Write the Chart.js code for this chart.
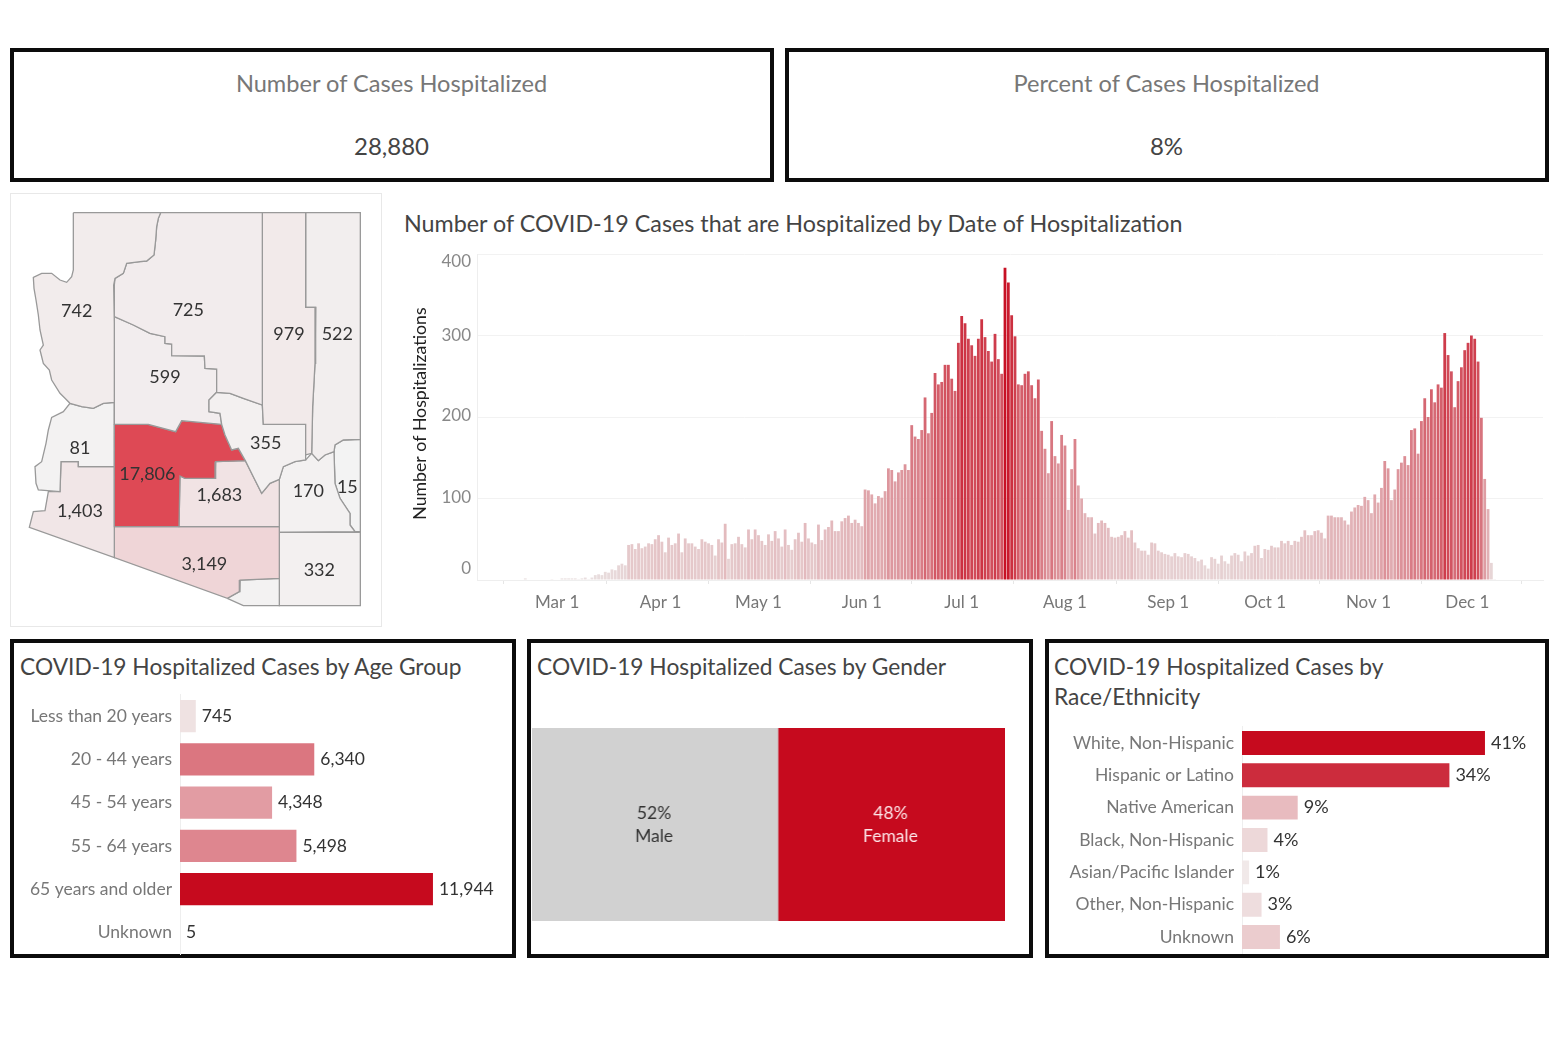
<!DOCTYPE html>
<html lang="en"><head><meta charset="utf-8">
<title>COVID-19 hospitalizations</title>
<script src="https://cdn.jsdelivr.net/npm/chart.js@4"></script>
<style>
html,body{margin:0;padding:0;background:#fff;width:1560px;height:1040px;overflow:hidden;font-family:Lato,sans-serif}
.box{position:absolute;border:4px solid #0c0c0c;box-sizing:border-box;background:#fff}
.frame{position:absolute;border:1.5px solid #e8e8e8;box-sizing:border-box}
.t{position:absolute;white-space:nowrap;line-height:1}
.kt{font-size:23.6px;color:#777;transform:translate(-50%,-50%)}
.kv{font-size:24px;color:#444;transform:translate(-50%,-50%)}
.ct{font-size:22.75px;color:#444}
canvas{position:absolute}
</style></head><body>
<div class="box" style="left:10px;top:48px;width:764px;height:134px"></div>
<div class="box" style="left:785px;top:48px;width:764px;height:134px"></div>
<div class="t kt" style="left:391.5px;top:84px">Number of Cases Hospitalized</div>
<div class="t kv" style="left:391.5px;top:146px">28,880</div>
<div class="t kt" style="left:1166.5px;top:84px">Percent of Cases Hospitalized</div>
<div class="t kv" style="left:1166.5px;top:146px">8%</div>
<div class="frame" style="left:10px;top:193px;width:372px;height:434px"></div>
<div class="t ct" style="left:404px;top:212px;font-size:23.3px">Number of COVID-19 Cases that are Hospitalized by Date of Hospitalization</div>
<div class="box" style="left:10px;top:639px;width:506px;height:319px"></div>
<div class="box" style="left:527px;top:639px;width:506px;height:319px"></div>
<div class="box" style="left:1045px;top:639px;width:504px;height:319px"></div>
<div class="t ct" style="left:20px;top:656px">COVID-19 Hospitalized Cases by Age Group</div>
<div class="t ct" style="left:537px;top:656px">COVID-19 Hospitalized Cases by Gender</div>
<div class="t ct" style="left:1054px;top:656px">COVID-19 Hospitalized Cases by</div>
<div class="t ct" style="left:1054px;top:686px">Race/Ethnicity</div>
<canvas id="map" style="left:10px;top:190px;width:375px;height:440px" width="375" height="440"></canvas>
<canvas id="daily" style="left:400px;top:240px;width:1150px;height:385px" width="1150" height="385"></canvas>
<canvas id="age" style="left:14px;top:690px;width:498px;height:266px" width="498" height="266"></canvas>
<canvas id="gender" style="left:531.7px;top:727.7px;width:473.6px;height:193px" width="474" height="193"></canvas>
<canvas id="race" style="left:1049px;top:722px;width:496px;height:234px" width="496" height="234"></canvas>
<script>
// ---------- daily hospitalizations ----------
const feb = [null,null,null,null,null,null,null,null,null,null,null,null,null,null,2,0,0,0,0,0,0,0,1];
const mar = [0,0,2,2,2,2,2,1,2,3,1,3,6,7,6,10,9,13,12,18,20,18,43,44,38,45,39,41,45,44,50];
const apr = [55,47,34,52,43,45,57,34,51,45,45,41,38,50,47,45,43,30,50,46,69,26,44,45,53,44,40,62,50,62];
const may = [55,48,43,56,48,60,51,41,62,43,37,50,58,47,70,51,46,44,68,49,62,65,73,60,60,72,76,79,70,74,70];
const jun = [66,111,110,105,94,103,101,109,137,135,121,132,135,142,135,190,176,173,184,224,180,205,254,240,243,264,264,247,232,291];
const jul = [324,315,296,288,275,296,320,298,281,268,302,271,253,383,365,325,299,240,239,253,256,239,223,246,183,161,131,195,152,143,178];
const aug = [165,86,136,173,116,100,82,77,77,57,70,73,70,64,53,52,53,55,60,52,61,46,39,36,36,31,46,45,36,34,32];
const sep = [31,29,33,29,28,33,32,29,27,23,25,18,14,28,26,20,30,23,20,30,33,31,23,35,30,33,42,43,27,38];
const oct = [37,42,40,40,48,45,48,43,48,47,53,61,55,55,60,61,58,51,79,79,77,77,77,73,68,84,89,92,91,102,98];
const nov = [82,105,95,113,146,137,98,111,136,144,152,141,184,186,155,195,223,200,234,218,240,236,303,276,256,212,244,261,282,291];
const dec = [300,296,268,199,124,87,21,1,null,null,null,null,null,null,null,null,null,null,null,null,null,null];
const monthNames = ['Feb','Mar','Apr','May','Jun','Jul','Aug','Sep','Oct','Nov','Dec'];
const monthSeries = [feb,mar,apr,may,jun,jul,aug,sep,oct,nov,dec];
const firstDayShown = [7,1,1,1,1,1,1,1,1,1,1];
const yTicks = [0,100,200,300,400];
const yTickNudge = [-11,-1,-1,0,8];
const xTickNudge = {'Mar 1':2,'Apr 1':2,'Oct 1':-3,'Nov 1':-3,'Dec 1':-4};

// ---------- breakdowns ----------
const ageGroups = ['Less than 20 years','20 - 44 years','45 - 54 years','55 - 64 years','65 years and older','Unknown'];
const ageCases = [745,6340,4348,5498,11944,5];
const genderNames = ['Male','Female'];
const genderShare = [52,48];
const genderText = ['52%','48%'];
const raceGroups = ['White, Non-Hispanic','Hispanic or Latino','Native American','Black, Non-Hispanic','Asian/Pacific Islander','Other, Non-Hispanic','Unknown'];
const raceShare = [41,35,9.4,4.3,1.2,3.3,6.4];
const raceText = ['41%','34%','9%','4%','1%','3%','6%'];

// ---------- counties: outlines in map units, cases and label anchors ----------
const mohave = [[190,68],[452,68],[445,85],[440,110],[437,150],[432,195],[410,213],[390,215],[350,220],[340,250],[315,265],[311,285],[313,400],[313,637],[280,640],[250,655],[215,650],[180,640],[165,625],[150,610],[125,570],[118,540],[100,520],[90,480],[100,465],[90,420],[85,375],[78,330],[72,295],[70,262],[95,250],[125,250],[150,270],[170,277],[185,260],[190,240],[190,68]];
const coconino = [[452,68],[757,68],[757,645],[700,625],[660,610],[620,607],[620,537],[585,535],[583,498],[485,497],[485,462],[465,460],[465,440],[420,430],[370,405],[313,380],[313,285],[315,265],[340,250],[350,220],[390,215],[410,213],[432,195],[437,150],[440,110],[445,85],[452,68]];
const navajo = [[757,68],[887,68],[887,352],[917,352],[915,520],[908,650],[905,790],[887,795],[887,703],[760,703],[757,645],[757,68]];
const apache = [[887,68],[1051,68],[1051,748],[1000,750],[975,765],[972,785],[945,795],[925,812],[905,790],[908,650],[915,520],[917,352],[887,352],[887,68]];
const gila = [[620,607],[660,610],[700,625],[757,645],[760,703],[887,703],[887,810],[855,815],[820,830],[808,868],[780,880],[755,910],[730,860],[706,812],[685,775],[665,780],[645,735],[635,703],[630,670],[597,665],[597,630],[620,607]];
const yavapai = [[313,380],[370,405],[420,430],[465,440],[465,460],[485,462],[485,497],[583,498],[585,535],[620,537],[620,607],[597,630],[597,665],[630,670],[635,703],[515,692],[497,725],[415,703],[313,703],[313,380]];
const maricopa = [[313,703],[415,703],[497,725],[515,692],[635,703],[645,735],[665,780],[685,775],[706,812],[617,815],[615,865],[525,865],[510,858],[507,1010],[313,1010],[313,703]];
const pinal = [[617,815],[706,812],[730,860],[755,910],[780,880],[808,868],[808,1010],[507,1010],[510,858],[525,865],[615,865],[617,815]];
const laPaz = [[313,637],[280,640],[250,655],[215,650],[180,640],[160,665],[125,682],[115,720],[108,760],[95,815],[75,830],[78,880],[85,900],[150,905],[153,815],[205,815],[205,830],[313,830],[313,637]];
const yuma = [[153,815],[205,815],[205,830],[313,830],[313,1103],[58,1012],[70,965],[105,962],[115,905],[150,905],[153,815]];
const pima = [[313,1010],[808,1010],[808,1165],[690,1170],[688,1205],[652,1225],[313,1103],[313,1010]];
const santaCruz = [[652,1225],[688,1205],[690,1170],[808,1165],[808,1247],[700,1247],[652,1225]];
const cochise = [[808,1027],[1051,1027],[1051,1247],[808,1247],[808,1027]];
const graham = [[808,868],[820,830],[855,815],[887,810],[905,790],[925,812],[945,795],[972,785],[975,880],[990,925],[1020,970],[1020,1005],[1035,1025],[808,1027],[808,868]];
const greenlee = [[1000,750],[1051,748],[1051,1025],[1035,1025],[1020,1005],[1020,970],[990,925],[975,880],[972,785],[975,765],[1000,750]];
const countyShapes = [mohave,coconino,navajo,apache,gila,yavapai,maricopa,pinal,laPaz,yuma,pima,santaCruz,cochise,graham,greenlee];
const countyCases  = [742,725,979,522,355,599,17806,1683,81,1403,3149,60,332,170,15];
const countyText   = ['742','725','979','522','355','599','17,806','1,683','81','1,403','3,149','','332','170','15'];
const countyLabelX = [200,535,837,982,767,465,412,628,210,210,583,0,928,895,1012];
const countyLabelY = [362,358,430,430,757,558,851,913,773,960,1120,0,1137,900,888];

// ---------- helpers ----------
const FONT = 'Lato, sans-serif';
Chart.defaults.font.family = FONT;
Chart.defaults.animation = false;
Chart.defaults.responsive = false;
Chart.defaults.plugins.legend.display = false;
Chart.defaults.plugins.tooltip.enabled = false;
function ramp(t, lo, hi){
  t = Math.max(0, Math.min(1, t));
  hi = hi || [198,10,30];
  const c = lo.map((v,i) => Math.round(v + (hi[i]-v)*t));
  return `rgb(${c[0]},${c[1]},${c[2]})`;
}
const endLabels = {
  id:'endLabels',
  afterDatasetsDraw(chart, _a, o){
    if(!o.texts) return;
    const c = chart.ctx; c.save();
    c.font = `${o.size}px ${FONT}`; c.fillStyle = o.color; c.textAlign='left'; c.textBaseline='middle';
    chart.getDatasetMeta(0).data.forEach((b,i)=> c.fillText(o.texts[i], b.x+o.gap, b.y));
    c.restore();
  }
};
Chart.register(endLabels);

// ---------- map ----------
new Chart(document.getElementById('map'),{
  type:'scatter',
  data:{datasets:countyShapes.map((pts,i)=>({
    data:pts.map(p=>({x:p[0],y:p[1]})),
    showLine:true, fill:'shape', tension:0, pointRadius:0,
    borderColor:'#999999', borderWidth:1.3,
    backgroundColor:ramp(countyCases[i]/19000,[243,243,243],[221,62,74])
  }))},
  options:{layout:{padding:0},
    scales:{x:{display:false,min:0,max:1125},y:{display:false,min:0,max:1320,reverse:true}}},
  plugins:[{id:'countyLabels',afterDatasetsDraw(chart){
    const c=chart.ctx; c.save(); c.font=`18px ${FONT}`; c.fillStyle='#333'; c.textAlign='center'; c.textBaseline='middle';
    countyText.forEach((t,i)=>{ if(t) c.fillText(t,chart.scales.x.getPixelForValue(countyLabelX[i]),chart.scales.y.getPixelForValue(countyLabelY[i])+1); });
    c.restore();
  }}]
});

// ---------- daily bars ----------
const dayLabels = [];
monthSeries.forEach((s,m)=>s.forEach((_,d)=>dayLabels.push(monthNames[m]+' '+(d+firstDayShown[m]))));
const dayValues = monthSeries.flat();
new Chart(document.getElementById('daily'),{
  type:'bar',
  data:{labels:dayLabels,datasets:[{data:dayValues,barPercentage:.84,categoryPercentage:1,
    backgroundColor:dayValues.map(v=>ramp((v||0)/395,[233,224,224]))}]},
  options:{
    layout:{padding:{top:14,right:7,left:0,bottom:0}},
    scales:{
      x:{grid:{drawOnChartArea:false,color:'#e6e6e6',tickLength:4},border:{color:'#eeeeee'},
        afterBuildTicks(s){s.ticks=s.ticks.filter(t=>/ 1$/.test(dayLabels[t.value]));},
        afterFit(s){s.height=45;s.paddingLeft=0;s.paddingRight=0;},
        beforeUpdate(s){
          if(s._nudged) return; s._nudged=true;
          const f=s._computeLabelItems;
          s._computeLabelItems=function(a){
            const items=f.call(this,a);
            items.forEach(it=>{it.options.translation[0]+=xTickNudge[it.label]||0;});
            return items;
          };
        },
        ticks:{autoSkip:false,maxRotation:0,color:'#777',font:{size:17},padding:8}},
      y:{min:0,max:400,grid:{color:'#f2f2f2',drawTicks:false},border:{color:'#eeeeee'},
        afterFit(s){s.width=77;s.paddingTop=0;s.paddingBottom=0;},
        afterBuildTicks(s){s.ticks=yTicks.map(v=>({value:v}));},
        beforeUpdate(s){
          if(s._nudged) return; s._nudged=true;
          const f=s._computeLabelItems;
          s._computeLabelItems=function(a){
            const items=f.call(this,a);
            items.forEach(it=>{const i=yTicks.indexOf(Number(it.label));if(i>=0)it.options.translation[1]+=yTickNudge[i];});
            return items;
          };
          const g=s.drawTitle;
          s.drawTitle=function(){this.ctx.save();this.ctx.translate(0,-3.5);g.call(this);this.ctx.restore();};
        },
        ticks:{color:'#888',font:{size:17},padding:6},
        title:{display:true,text:'Number of Hospitalizations',color:'#222',font:{size:17.7},padding:{top:10,bottom:0}}}
    }
  }
});

// ---------- age ----------
new Chart(document.getElementById('age'),{
  type:'bar',
  data:{labels:ageGroups,datasets:[{data:ageCases,barPercentage:.75,categoryPercentage:1,
    backgroundColor:ageCases.map(v=>ramp(v/11944,[242,240,239]))}]},
  options:{indexAxis:'y',layout:{padding:{top:4.5,bottom:2,left:0,right:35.5}},
    plugins:{endLabels:{texts:ageCases.map(v=>v.toLocaleString('en-US')),size:17.5,color:'#333',gap:6}},
    scales:{x:{display:false,min:0,max:14000},
      y:{grid:{display:false},border:{color:'#eeeeee'},afterFit(s){s.width=166;s.paddingTop=0;s.paddingBottom=0;},
        ticks:{color:'#777',font:{size:17.5},padding:0}}}}
});

// ---------- gender ----------
new Chart(document.getElementById('gender'),{
  type:'bar',
  data:{labels:[''],datasets:genderNames.map((n,i)=>({label:n,data:[genderShare[i]],stack:'g',
    barPercentage:1,categoryPercentage:1,backgroundColor:['#d1d1d1','#c60a1e'][i]}))},
  options:{indexAxis:'y',layout:{padding:0},
    scales:{x:{display:false,stacked:true,min:0,max:100},y:{display:false,stacked:true}}},
  plugins:[{id:'genderLabels',afterDatasetsDraw(chart){
    const c=chart.ctx; c.save(); c.font=`17.5px ${FONT}`; c.textAlign='center'; c.textBaseline='middle';
    genderNames.forEach((n,i)=>{
      const b=chart.getDatasetMeta(i).data[0];
      const cx=(b.x+b.base)/2-1;
      c.fillStyle=i?'#fde6e8':'#333';
      c.fillText(genderText[i],cx,b.y-11);
      c.fillText(n,cx,b.y+12);
    });
    c.restore();
  }}]
});

// ---------- race ----------
new Chart(document.getElementById('race'),{
  type:'bar',
  data:{labels:raceGroups,datasets:[{data:raceShare,barPercentage:.74,categoryPercentage:1,
    backgroundColor:raceShare.map(v=>ramp(v/41,[242,240,239]))}]},
  options:{indexAxis:'y',layout:{padding:{top:4.8,bottom:2.8,left:0,right:6.7}},
    plugins:{endLabels:{texts:raceText,size:18,color:'#333',gap:6}},
    scales:{x:{display:false,min:0,max:50},
      y:{grid:{display:false},border:{color:'#eeeeee'},afterFit(s){s.width=193;s.paddingTop=0;s.paddingBottom=0;},
        ticks:{color:'#777',font:{size:17.5},padding:0}}}}
});
</script>
</body></html>
